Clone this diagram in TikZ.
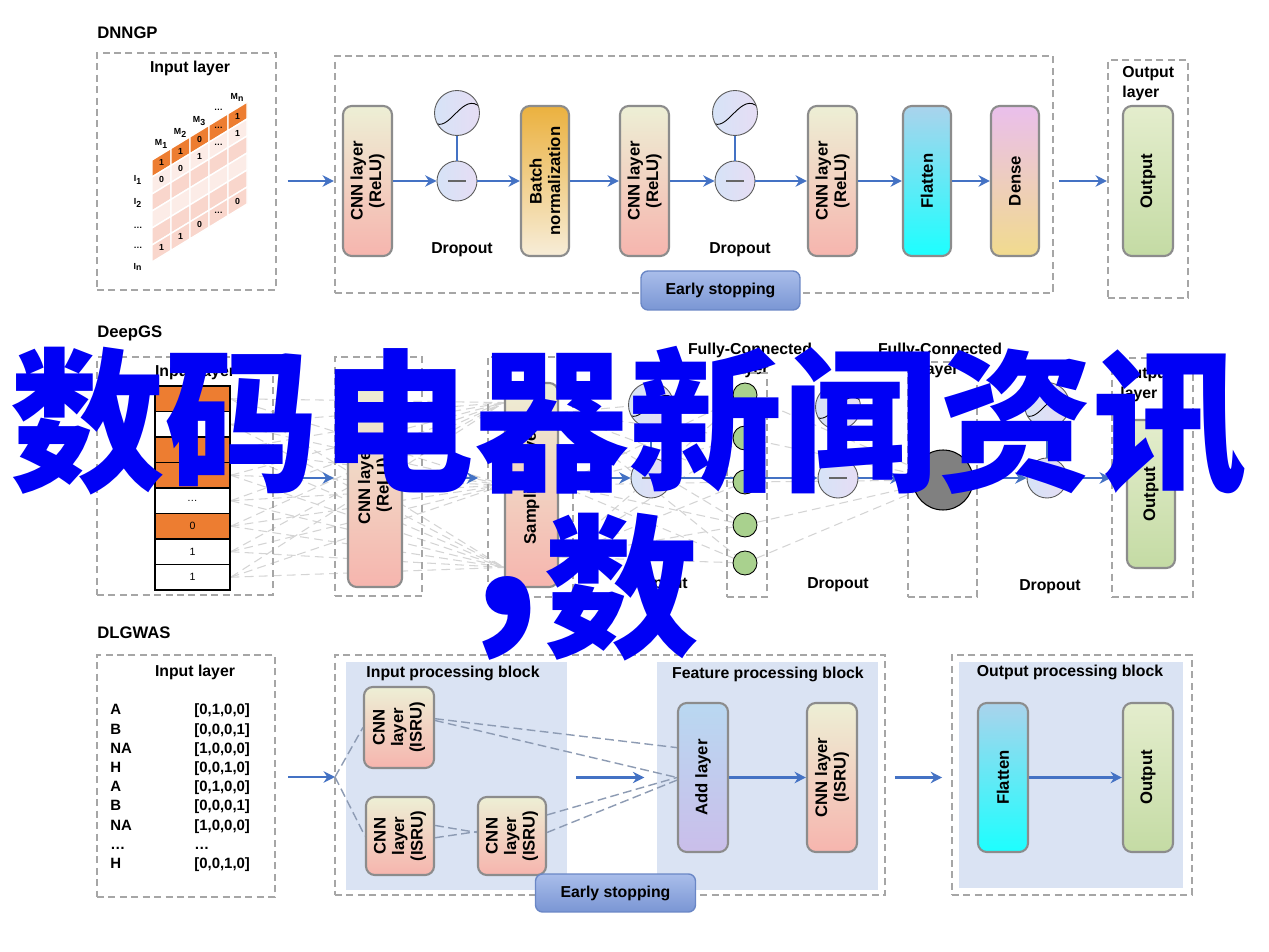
\documentclass[tikz,border=0pt]{standalone}
\usepackage{fontspec}
\setmainfont{Liberation Sans}
\newfontfamily\cjk{Noto Sans CJK SC}
\usepackage{xcolor}
\usetikzlibrary{positioning, arrows.meta, fit, backgrounds, calc}

\definecolor{arrowblue}{HTML}{4472C4}
\definecolor{boxgray}{HTML}{A6A6A6}
\definecolor{edgegray}{HTML}{8C8C8C}
\definecolor{cnntop}{HTML}{EDEFD5}
\definecolor{cnnbot}{HTML}{F6B5AE}
\definecolor{bntop}{HTML}{EBB13F}
\definecolor{bnbot}{HTML}{F7EDD8}
\definecolor{fltop}{HTML}{AAD3EC}
\definecolor{flbot}{HTML}{1CFFFF}
\definecolor{dntop}{HTML}{EABFEC}
\definecolor{dnbot}{HTML}{F1DB8E}
\definecolor{outtop}{HTML}{E4EDCD}
\definecolor{outbot}{HTML}{C4DBA4}
\definecolor{addtop}{HTML}{B9D8F1}
\definecolor{addbot}{HTML}{CABEEA}
\definecolor{droptop}{HTML}{D6E3F7}
\definecolor{dropbot}{HTML}{E6DDF4}
\definecolor{esttop}{HTML}{A9BDEA}
\definecolor{estbot}{HTML}{7A96D4}
\definecolor{estedge}{HTML}{6A87C6}
\definecolor{blockbg}{HTML}{DAE3F3}
\definecolor{cellorange}{HTML}{ED7D31}
\definecolor{cellpale}{HTML}{FCECE7}
\definecolor{cellpink}{HTML}{F9D6CC}
\definecolor{fcgreen}{HTML}{A9D18E}
\definecolor{fcgray}{HTML}{808080}
\definecolor{faintgray}{HTML}{D4D4D4}
\definecolor{linkgray}{HTML}{8D9BB3}
\definecolor{wmblue}{HTML}{0000F5}

\begin{document}
\begin{tikzpicture}[x=0.02cm, y=-0.02cm, >=Stealth,
  dbox/.style={draw=boxgray, line width=1.2pt, dash pattern=on 4pt off 2.5pt, inner sep=0pt},
  layer/.style={draw=edgegray, line width=1.2pt, rounded corners=5pt, inner sep=0pt},
  cnnl/.style={layer, top color=cnntop, bottom color=cnnbot},
  bnl/.style={layer, top color=bntop, bottom color=bnbot},
  fll/.style={layer, top color=fltop, bottom color=flbot},
  dnl/.style={layer, top color=dntop, bottom color=dnbot},
  outl/.style={layer, top color=outtop, bottom color=outbot},
  addl/.style={layer, top color=addtop, bottom color=addbot},
  vtext/.style={rotate=90, align=center, font=\bfseries\fontsize{9.5}{10.5}\selectfont, inner sep=0pt},
  lbl/.style={font=\bfseries\fontsize{9}{11.3}\selectfont, inner sep=0pt},
  title/.style={font=\bfseries\fontsize{9.5}{11}\selectfont, anchor=west, inner sep=0pt},
  code/.style={font=\bfseries\fontsize{8.5}{10}\selectfont, inner sep=0pt, anchor=base west},
  cellnum/.style={font=\bfseries\fontsize{5}{6}\selectfont, inner sep=0pt},
  gscell/.style={draw=black, line width=0.8pt, minimum width=1.5cm, minimum height=0.51cm, inner sep=0pt, font=\fontsize{6}{7}\selectfont},
  arr/.style={-{Stealth[length=6.5pt, width=6.5pt]}, draw=arrowblue, line width=1.7pt},
  stem/.style={draw=arrowblue, line width=1.7pt},
  sigc/.style={circle, draw=black!65, line width=0.5pt, left color=droptop, right color=dropbot, minimum size=0.9cm, inner sep=0pt,
    path picture={\draw[black, line width=0.5pt, shift={(path picture bounding box.center)}] (-23,9) .. controls (-8,22) and (6,-24) .. (24,-5);}},
  minusc/.style={circle, draw=black!65, line width=0.5pt, left color=droptop, right color=dropbot, minimum size=0.8cm, inner sep=0pt,
    path picture={\draw[black!60, line width=0.9pt] ([xshift=-5pt]path picture bounding box.center) -- ([xshift=5pt]path picture bounding box.center);}},
  fcn/.style={circle, draw=black, line width=0.5pt, fill=fcgreen, minimum size=0.48cm, inner sep=0pt},
  fcg/.style={circle, draw=black, line width=0.6pt, fill=fcgray, minimum size=1.2cm, inner sep=0pt},
  estop/.style={draw=estedge, line width=0.8pt, rounded corners=4pt, top color=esttop, bottom color=estbot, inner sep=0pt, font=\bfseries\fontsize{9}{10}\selectfont},
  faint/.style={draw=faintgray, line width=0.6pt, dash pattern=on 5pt off 3pt},
  link/.style={draw=linkgray, line width=0.8pt, dash pattern=on 5pt off 2.5pt},
  bg/.style={fill=blockbg, inner sep=0pt},
  wm/.style={text=wmblue, font=\cjk\bfseries\fontsize{88}{88}\selectfont, inner sep=0pt}]

\useasboundingbox (0,0) rectangle (1269,952);

% ---------- DNNGP ----------
\node[title] (t1) at (97,33) {DNNGP};
\node[dbox, fit={(97,53) (276,290)}] (nin) {};
\node[lbl] (nint) at (190,68) {Input layer};
\begin{scope}[shift={(152,160)}, yslant=0.61]
  \foreach \r/\c in {0/cellorange,1/cellpale,2/cellpink,3/cellpale,4/cellpink,5/cellpink}
    \foreach \k in {0,...,4}
      \draw[white, line width=0.8pt, fill=\c] (19*\k,17*\r) rectangle ++(19,17);
  \foreach \k/\v in {0/M\textsubscript{1},1/M\textsubscript{2},2/M\textsubscript{3},3/\dots,4/M\textsubscript{n}}
    \node[cellnum] (mh\k) at (19*\k+9.5,-10) {\v};
  \foreach \k/\v in {0/1,1/1,2/0,3/\dots,4/1}
    \node[cellnum] (ma\k) at (19*\k+9.5,8.5) {\v};
  \foreach \k/\v in {0/0,1/0,2/1,3/\dots,4/1}
    \node[cellnum] (mb\k) at (19*\k+9.5,25.5) {\v};
  \foreach \k/\v in {0/1,1/1,2/0,3/\dots,4/0}
    \node[cellnum] (mc\k) at (19*\k+9.5,93.5) {\v};
\end{scope}
\foreach \i/\y/\v in {1/180/I\textsubscript{1},2/203/I\textsubscript{2},3/228/\dots,4/248/\dots,5/267/I\textsubscript{n}}
  \node[cellnum] (rl\i) at (138,\y) {\v};

\node[dbox, fit={(335,56) (1053,293)}] (nmain) {};
\node[cnnl, fit={(343,106) (392,256)}] (ncnn1) {};
\node[vtext] (ncnn1t) at (ncnn1) {CNN layer\\(ReLU)};
\node[sigc] (nd1s) at (457,113) {};
\node[minusc] (nd1m) at (457,181) {};
\node[lbl] (nd1t) at (462,250) {Dropout};
\node[bnl, fit={(521,106) (569,256)}] (nbn) {};
\node[vtext] (nbnt) at (nbn) {Batch\\normalization};
\node[cnnl, fit={(620,106) (669,256)}] (ncnn2) {};
\node[vtext] (ncnn2t) at (ncnn2) {CNN layer\\(ReLU)};
\node[sigc] (nd2s) at (735,113) {};
\node[minusc] (nd2m) at (735,181) {};
\node[lbl] (nd2t) at (740,250) {Dropout};
\node[cnnl, fit={(808,106) (857,256)}] (ncnn3) {};
\node[vtext] (ncnn3t) at (ncnn3) {CNN layer\\(ReLU)};
\node[fll, fit={(903,106) (951,256)}] (nfl) {};
\node[vtext] (nflt) at (nfl) {Flatten};
\node[dnl, fit={(991,106) (1039,256)}] (ndn) {};
\node[vtext] (ndnt) at (ndn) {Dense};
\node[dbox, fit={(1108,60) (1188,298)}] (nout) {};
\node[lbl, anchor=north west, align=left] (noutt) at (1122,66) {Output\\layer};
\node[outl, fit={(1123,106) (1173,256)}] (nop) {};
\node[vtext] (nopt) at (nop) {Output};
\node[estop, minimum width=3.18cm, minimum height=0.78cm] (nes) at (720.5,290.5) {Early stopping};

\draw[arr] ([xshift=6pt]nin.east |- ncnn1) -- (nmain.west |- ncnn1);
\draw[arr] (ncnn1) -- (nd1m);
\draw[stem] (nd1s) -- (nd1m);
\draw[arr] (nd1m) -- (nbn);
\draw[arr] (nbn) -- (ncnn2);
\draw[arr] (ncnn2) -- (nd2m);
\draw[stem] (nd2s) -- (nd2m);
\draw[arr] (nd2m) -- (ncnn3);
\draw[arr] (ncnn3) -- (nfl);
\draw[arr] (nfl) -- (ndn);
\draw[arr] ([xshift=3pt]nmain.east |- ndn) -- (nout.west |- ndn);

% ---------- DeepGS ----------
\node[title] (t2) at (97,333) {DeepGS};
\node[dbox, fit={(97,357) (273,595)}] (gin) {};
\node[lbl] (gint) at (195,372) {Input layer};
\foreach \i/\c/\t in {0/cellorange/{},1/white/{},2/cellorange/{},3/cellorange/{},4/white/\dots,5/cellorange/0,6/white/1,7/white/1}
  \node[gscell, fill=\c] (gs\i) at (192.5,398.75+25.5*\i) {\t};
\node[dbox, fit={(335,357) (422,596)}] (gcnnb) {};
\node[cnnl, fit={(348,383) (402,587)}] (gcnn) {};
\node[vtext] (gcnnt) at (gcnn) {CNN layer\\(ReLU)};
\node[dbox, fit={(488,357) (573,597)}] (gsmpb) {};
\node[cnnl, fit={(505,383) (558,587)}] (gsmp) {};
\node[vtext] (gsmpt) at (gsmp) {Sampling layer};
\node[sigc] (gd1s) at (651,405) {};
\node[minusc] (gd1m) at (651,478) {};
\node[lbl] (gd1t) at (657,585) {Dropout};
\node[lbl, align=center] (gfc1t) at (750,360) {Fully-Connected\\layer};
\node[dbox, fit={(727,373) (767,597)}] (gfc1) {};
\foreach \i/\y in {1/395,2/438,3/482,4/525,5/563}
  \node[fcn] (gf\i) at (745,\y) {};
\node[sigc] (gd2s) at (838,407) {};
\node[minusc] (gd2m) at (838,478) {};
\node[lbl] (gd2t) at (838,585) {Dropout};
\node[lbl, align=center] (gfc2t) at (940,360) {Fully-Connected\\layer};
\node[dbox, fit={(908,362) (977,597)}] (gfc2) {};
\node[fcg] (gf0) at (943,480) {};
\node[sigc] (gd3s) at (1047,405) {};
\node[minusc] (gd3m) at (1047,478) {};
\node[lbl] (gd3t) at (1050,587) {Dropout};
\node[dbox, fit={(1112,358) (1193,597)}] (gout) {};
\node[lbl, anchor=north west, align=left] (goutt) at (1120,367) {Output\\layer};
\node[outl, fit={(1127,420) (1175,568)}] (gop) {};
\node[vtext] (gopt) at (gop) {Output};

\coordinate (gy) at (0,478);
\draw[arr] ([xshift=7pt]gin.east |- gy) -- (gcnnb.west |- gy);
\draw[arr] ([xshift=5pt]gcnnb.east |- gy) -- ([xshift=-5pt]gsmpb.west |- gy);
\draw[arr] ([xshift=3pt]gsmpb.east |- gy) -- (gd1m);
\draw[stem] (gd1s) -- (gd1m);
\draw[stem] (gd2s) -- (gd2m);
\draw[arr] (gd2m) -- ([xshift=-3pt]gfc2.west |- gd2m);
\draw[arr] ([xshift=2pt]gfc2.east |- gd3m) -- (gd3m);
\draw[stem] (gd3s) -- (gd3m);
\draw[arr] (gd3m) -- (gout.west |- gd3m);

% ---------- DLGWAS ----------
\node[title] (t3) at (97,633) {DLGWAS};
\node[dbox, fit={(97,655) (275,897)}] (lin) {};
\node[lbl] (lint) at (195,672) {Input layer};
\foreach \i/\a/\b in {0/A/{[0,1,0,0]},1/B/{[0,0,0,1]},2/NA/{[1,0,0,0]},3/H/{[0,0,1,0]},4/A/{[0,1,0,0]},5/B/{[0,0,0,1]},6/NA/{[1,0,0,0]},7/\dots/\dots,8/H/{[0,0,1,0]}}{
  \node[code] (la\i) at (110,715+19.2*\i) {\a};
  \node[code] (lb\i) at (194,715+19.2*\i) {\b};
}
\node[dbox, fit={(335,655) (885,895)}] (lmain) {};
\node[bg, fit={(346,662) (567,890)}] (lipb) {};
\node[bg, fit={(657,662) (878,890)}] (lfpb) {};
\node[lbl] (lipbt) at (453,673) {Input processing block};
\node[lbl] (lfpbt) at (768,674) {Feature processing block};
\node[cnnl, fit={(364,687) (434,768)}] (lc1) {};
\node[vtext] (lc1t) at (lc1) {CNN\\layer\\(ISRU)};
\node[cnnl, fit={(366,797) (434,875)}] (lc2) {};
\node[vtext] (lc2t) at (lc2) {CNN\\layer\\(ISRU)};
\node[cnnl, fit={(478,797) (546,875)}] (lc3) {};
\node[vtext] (lc3t) at (lc3) {CNN\\layer\\(ISRU)};
\node[addl, fit={(678,703) (728,852)}] (ladd) {};
\node[vtext] (laddt) at (ladd) {Add layer};
\node[cnnl, fit={(807,703) (857,852)}] (lc4) {};
\node[vtext] (lc4t) at (lc4) {CNN layer\\(ISRU)};
\node[estop, minimum width=3.2cm, minimum height=0.76cm] (les) at (615.5,893) {Early stopping};
\node[dbox, fit={(952,655) (1192,895)}] (lout) {};
\node[bg, fit={(959,662) (1183,888)}] (lopb) {};
\node[lbl] (lopbt) at (1070,672) {Output processing block};
\node[fll, fit={(978,703) (1028,852)}] (lfl) {};
\node[vtext] (lflt) at (lfl) {Flatten};
\node[outl, fit={(1123,703) (1173,852)}] (lop) {};
\node[vtext] (lopt) at (lop) {Output};

\coordinate (lfork) at (335,777);
\draw[arr] ([xshift=7pt]lin.east |- lfork) -- (lfork);
\draw[link] (lfork) -- (lc1.west);
\draw[link] (lfork) -- (lc2.west);
\draw[link] ([yshift=5pt]lc1.east) -- ([yshift=17pt]ladd.west);
\draw[link] ([yshift=4pt]lc1.east) -- (ladd.west);
\draw[link] ([yshift=6pt]lc2.east) -- ([yshift=2pt]lc3.west);
\draw[link] ([yshift=-1pt]lc2.east) -- ([yshift=2.5pt]lc3.west);
\draw[link] ([yshift=12pt]lc3.east) -- (ladd.west);
\draw[link] ([yshift=2pt]lc3.east) -- ([yshift=-1.5pt]ladd.west);
\draw[arr] ([xshift=5pt]lipb.east |- ladd) -- ([xshift=-7pt]lfpb.west |- ladd);
\draw[arr] (ladd) -- (lc4);
\draw[arr] ([xshift=5pt]lmain.east |- lfl) -- ([xshift=-5pt]lout.west |- lfl);
\draw[arr] (lfl) -- (lop);

% background: white page, mesh lines, long arrow
\begin{pgfonlayer}{background}
  \fill[white] (0,0) rectangle (1269,952);
  \foreach \i in {0,...,7}
    \foreach \f in {0.1,0.5,0.9}
      \draw[faint] (gs\i.east) -- ($(gsmp.north west)!\f!(gsmp.south west)$);
  \foreach \f in {0.15,0.5,0.85}
    \foreach \i in {1,...,5}
      \draw[faint] ($(gsmp.north east)!\f!(gsmp.south east)$) -- (gf\i);
  \foreach \i in {1,...,5}
    \draw[faint] (gf\i) -- (gf0);
  \draw[arr] (gd1m) -- (gd2m);
\end{pgfonlayer}

% watermark
\node[wm, anchor=west] (wm1) at (10,422) {数码电器新闻资讯};
\node[wm, scale=1.25] (wm2) at (506,618) {,};
\node[wm] (wm3) at (622,587) {数};
\end{tikzpicture}
\end{document}
